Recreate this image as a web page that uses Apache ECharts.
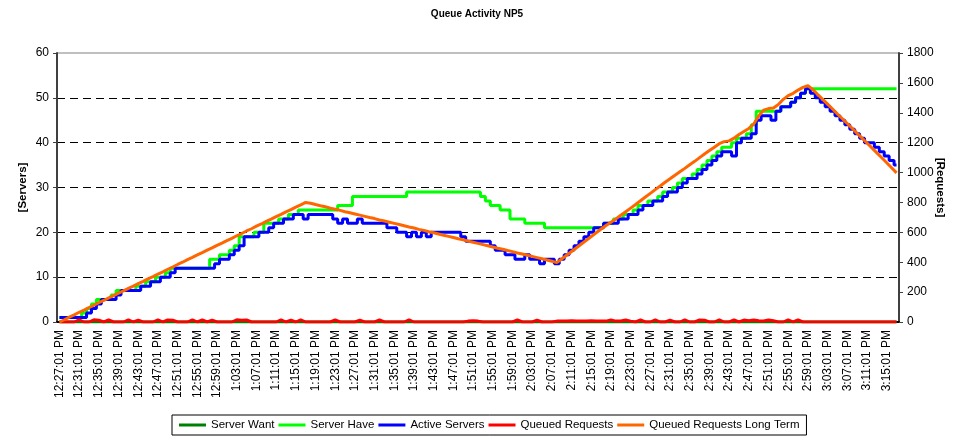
<!DOCTYPE html>
<html>
<head>
<meta charset="utf-8">
<title>Queue Activity NP5</title>
<script src="https://cdn.jsdelivr.net/npm/echarts@6/dist/echarts.min.js"></script>
<style>
  html, body { margin: 0; padding: 0; background: #fff; }
  #chart_1 { width: 954px; height: 440px; }
</style>
</head>
<body>
<div id="chart_1"></div>
<script>
// one sample per minute, 12:27:01 PM .. 3:17:01 PM
var timeLabels = [];
for (var m = 0; m < 171; m++) {
  var total = 12 * 60 + 27 + m; // minutes after midnight
  var h = Math.floor(total / 60) % 12;
  if (h === 0) h = 12;
  var mm = total % 60;
  timeLabels.push(h + ":" + (mm < 10 ? "0" : "") + mm + ":01 PM");
}

var serversTicks = [0, 10, 20, 30, 40, 50, 60];
var requestsTicks = [0, 200, 400, 600, 800, 1000, 1200, 1400, 1600, 1800];

// [Servers] axis
var serverWant = [
  0,0,0,0,0,0,0,0,0,0, 0,0,0,0,0,0,0,0,0,0, 0,0,0,0,0,0,0,0,0,0,
  0,0,0,0,0,0,0,0,0,0, 0,0,0,0,0,0,0,0,0,0, 0,0,0,0,0,0,0,0,0,0,
  0,0,0,0,0,0,0,0,0,0, 0,0,0,0,0,0,0,0,0,0, 0,0,0,0,0,0,0,0,0,0,
  0,0,0,0,0,0,0,0,0,0, 0,0,0,0,0,0,0,0,0,0, 0,0,0,0,0,0,0,0,0,0,
  0,0,0,0,0,0,0,0,0,0, 0,0,0,0,0,0,0,0,0,0, 0,0,0,0,0,0,0,0,0,0,
  0,0,0,0,0,0,0,0,0,0, 0,0,0,0,0,0,0,0,0,0, 0
];

var serverHave = [
  1,1,1,1,1,2,3,4,5,5,
  5,6,7,7,7,7,8,8,9,9,
  10,10,11,12,12,12,12,12,12,12,
  12,14,14,15,15,16,17,19,19,19,
  20,20,22,22,22,23,23,24,24,25,
  25,25,25,25,25,25,25,26,26,26,
  28,28,28,28,28,28,28,28,28,28,
  28,29,29,29,29,29,29,29,29,29,
  29,29,29,29,29,29,28,27,26,26,
  25,25,23,23,23,22,22,22,22,21,
  21,21,21,21,21,21,21,21,21,21,
  21,22,22,23,23,24,24,25,26,26,
  27,27,28,29,29,30,31,32,32,33,
  34,35,36,37,38,39,39,40,41,41,
  42,44,47,47,47,47,47,48,48,49,
  50,51,52,52,52,52,52,52,52,52,
  52,52,52,52,52,52,52,52,52,52,
  52
];

var activeServers = [
  1,1,1,1,1,1,2,3,4,5,
  5,5,6,7,7,7,7,8,8,9,
  9,10,10,11,12,12,12,12,12,12,
  12,12,13,14,14,15,16,17,19,19,
  19,20,20,21,22,22,23,23,24,24,
  23,24,24,24,24,24,23,22,23,22,
  22,23,22,22,22,22,22,21,21,20,
  20,19,20,19,20,19,20,20,20,20,
  20,20,19,18,18,18,18,18,17,16,
  16,15,15,14,14,15,14,14,13,14,
  14,13,14,15,16,17,18,19,20,21,
  21,22,22,22,23,23,24,24,25,26,
  26,27,27,28,29,29,30,31,32,32,
  33,34,35,36,37,38,38,37,40,41,
  41,42,45,46,46,45,47,48,48,49,
  50,51,52,51,50,49,48,47,46,45,
  44,43,42,41,40,40,39,38,37,36,
  35
];

// [Requests] axis
var queuedRequests = [
  0,0,0,0,15,0,0,15,12,0,
  14,0,0,0,15,0,12,0,0,0,
  15,0,14,12,0,0,0,15,0,14,
  0,13,0,0,0,0,15,12,14,0,
  0,0,0,0,0,15,0,13,0,15,
  0,0,0,0,0,0,14,0,0,0,
  0,13,0,0,0,14,0,0,0,0,
  0,15,0,0,0,0,0,0,0,0,
  0,0,0,6,8,6,0,0,0,0,
  0,0,0,14,0,0,0,13,0,0,
  0,6,7,6,8,6,7,6,8,6,
  7,6,14,6,7,13,6,0,14,0,
  0,15,0,0,13,0,0,15,0,0,
  14,12,0,0,15,0,0,14,0,13,
  8,14,8,7,14,8,0,0,15,0,
  14,0,0,0,0,0,0,0,0,0,
  0,0,0,0,0,0,0,0,0,0,
  0
];

var queuedLongTerm = [
  0,15,33,48,65,80,97,112,129,144,
  161,176,193,208,225,240,257,272,289,304,
  321,336,353,368,385,400,417,432,449,464,
  481,496,513,528,545,560,577,592,609,624,
  641,656,673,688,705,720,737,752,769,784,
  800,795,786,778,771,762,755,747,738,731,
  723,715,707,699,692,683,676,668,660,652,
  644,636,629,620,613,604,597,589,581,573,
  565,557,550,541,534,526,518,510,502,494,
  487,478,471,462,455,447,439,431,423,415,
  407,397,422,447,472,497,522,547,572,597,
  622,646,668,690,714,738,762,786,811,836,
  861,886,910,935,958,982,1005,1028,1052,1075,
  1100,1124,1147,1170,1193,1207,1212,1230,1255,1275,
  1295,1325,1378,1418,1428,1432,1455,1490,1515,1530,
  1552,1570,1582,1555,1522,1490,1458,1425,1392,1360,
  1328,1296,1262,1230,1198,1165,1132,1099,1066,1032,
  998
];

var font = "Liberation Sans, Arial, sans-serif";

const chartDom = document.getElementById("chart_1");
const myChart = echarts.init(chartDom);

function lineSeries(name, data, color, axis, stepped) {
  return {
    name: name,
    type: "line",
    yAxisIndex: axis,
    data: data,
    step: stepped ? "middle" : false,
    symbol: "none",
    lineStyle: { color: color, width: 3 },
    itemStyle: { color: color },
  };
}

const option = {
  animation: false,
  textStyle: { fontFamily: font },
  title: {
    text: "Queue Activity NP5",
    left: "center",
    top: 4,
    textStyle: { fontSize: 10, fontWeight: "bold", color: "#000", fontFamily: font },
  },
  grid: { left: 57, right: 54, top: 53, bottom: 118, show: true, borderColor: "#808080", borderWidth: 1 },
  legend: {
    left: 172,
    top: 415,
    padding: [4, 7],
    borderColor: "#000",
    borderWidth: 1,
    icon: "rect",
    itemWidth: 27,
    itemHeight: 3,
    itemGap: 4,
    textStyle: { fontSize: 11.5, color: "#000", fontFamily: font },
    data: ["Server Want", "Server Have", "Active Servers", "Queued Requests", "Queued Requests Long Term"],
  },
  xAxis: {
    type: "category",
    data: timeLabels,
    boundaryGap: true,
    axisLine: { lineStyle: { color: "#000", width: 2 } },
    axisTick: { show: false },
    axisLabel: { interval: 3, rotate: 90, margin: 8, fontSize: 12, color: "#000", fontFamily: font },
  },
  yAxis: [
    {
      type: "value",
      min: serversTicks[0],
      max: serversTicks[serversTicks.length - 1],
      interval: 10,
      name: "[Servers]",
      nameLocation: "middle",
      nameGap: 28,
      nameMoveOverlap: false,
      nameTextStyle: { fontSize: 11.5, fontWeight: "bold", color: "#000", fontFamily: font },
      axisLine: { show: true, lineStyle: { color: "#404040", width: 2 } },
      axisTick: { show: true, length: 4, lineStyle: { color: "#404040" } },
      axisLabel: { fontSize: 12, color: "#000", margin: 8, fontFamily: font },
      splitLine: {
        show: true,
        showMinLine: false,
        showMaxLine: false,
        lineStyle: { color: "#000", type: [8, 5], width: 1 },
      },
    },
    {
      type: "value",
      min: requestsTicks[0],
      max: requestsTicks[requestsTicks.length - 1],
      interval: 200,
      position: "right",
      name: "[Requests]",
      nameLocation: "middle",
      nameGap: 35,
      nameMoveOverlap: false,
      nameRotate: -90,
      nameTextStyle: { fontSize: 11.5, fontWeight: "bold", color: "#000", fontFamily: font },
      axisLine: { show: true, lineStyle: { color: "#404040", width: 2 } },
      axisTick: { show: true, length: 4, lineStyle: { color: "#404040" } },
      axisLabel: {
        fontSize: 12,
        color: "#000",
        margin: 8,
        fontFamily: font,
        formatter: function (v) { return String(v); }, // no thousands separator
      },
      splitLine: { show: false },
    },
  ],
  series: [
    lineSeries("Server Want", serverWant, "#008000", 0, true),
    lineSeries("Server Have", serverHave, "#00FF00", 0, true),
    lineSeries("Active Servers", activeServers, "#0000FF", 0, true),
    lineSeries("Queued Requests", queuedRequests, "#FF0000", 1, false),
    lineSeries("Queued Requests Long Term", queuedLongTerm, "#FF6600", 1, false),
  ],
};

myChart.setOption(option);
</script>
</body>
</html>
